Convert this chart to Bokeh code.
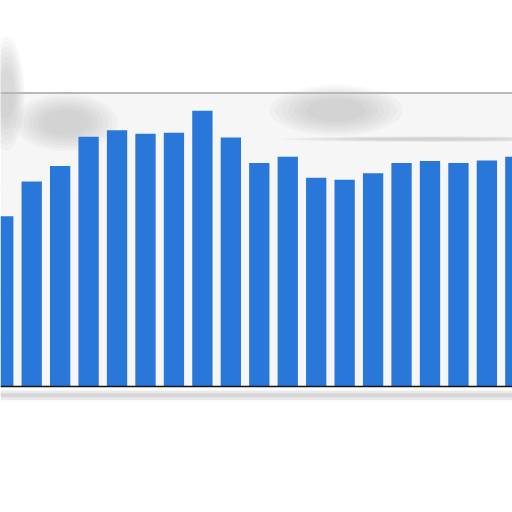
from bokeh.plotting import figure
from bokeh.models import Range1d, Span, BoxAnnotation, FixedTicker
from bokeh.embed import file_html
from bokeh.resources import INLINE

# data (arbitrary units: one gridline step = 10)
positions = list(range(19))
values = [34.8, 41.9, 45.1, 51.1, 52.4, 51.7, 51.9, 56.4, 50.9, 45.7,
          47.0, 42.7, 42.3, 43.6, 45.7, 46.1, 45.7, 46.2, 47.0]
grid_values = [10, 20, 30, 40, 50]
top_value = 60

# soft grey smudges seen in the reference (centre x, centre y, width, height)
smudge_x = [2.2, 11.7, 0.1, 15.0]
smudge_y = [54.0, 56.5, 60.0, 50.6]
smudge_w = [2.8, 3.6, 1.0, 8.0]
smudge_h = [9.0, 8.0, 18.0, 0.9]

p = figure(width=512, height=512, output_backend="svg", toolbar_location=None,
           x_range=Range1d(-0.0967, 17.90), y_range=Range1d(-25.77, 78.94),
           min_border=0, min_border_left=0, min_border_right=0,
           min_border_top=0, min_border_bottom=0)
p.axis.visible = False
p.outline_line_color = None
p.background_fill_color = "white"
p.border_fill_color = "white"
p.xgrid.visible = False
p.ygrid.ticker = FixedTicker(ticks=grid_values)
p.ygrid.grid_line_color = "#c8c8c8"
p.ygrid.grid_line_dash = "1 2"
p.ygrid.grid_line_width = 1

p.add_layout(BoxAnnotation(bottom=0, top=top_value, fill_color="#f6f6f6",
                           fill_alpha=1, line_color=None, level="underlay"))

# blurred smudges (layered for a soft edge)
for k in range(7):
    s = 1.3 - 0.12 * k
    p.ellipse(x=smudge_x, y=smudge_y,
              width=[w * s for w in smudge_w], height=[h * s for h in smudge_h],
              fill_color="#8c8c8c", fill_alpha=0.055, line_color=None)

p.add_layout(Span(location=top_value, dimension="width", line_color="#b8b8b8",
                  line_width=2))

# soft shadow below baseline
p.add_layout(BoxAnnotation(bottom=-2.8, top=-0.8, fill_color="#d8d8d8",
                           fill_alpha=0.5, line_color=None))
p.add_layout(BoxAnnotation(bottom=-2.2, top=-1.4, fill_color="#c4c4c4",
                           fill_alpha=0.5, line_color=None))

p.vbar(x=positions, top=values, bottom=0, width=0.714,
       fill_color="#2a77da", line_color=None)

p.add_layout(Span(location=0, dimension="width", line_color="#111111",
                  line_width=1.5))

open("out.html", "w").write(file_html(p, INLINE))
